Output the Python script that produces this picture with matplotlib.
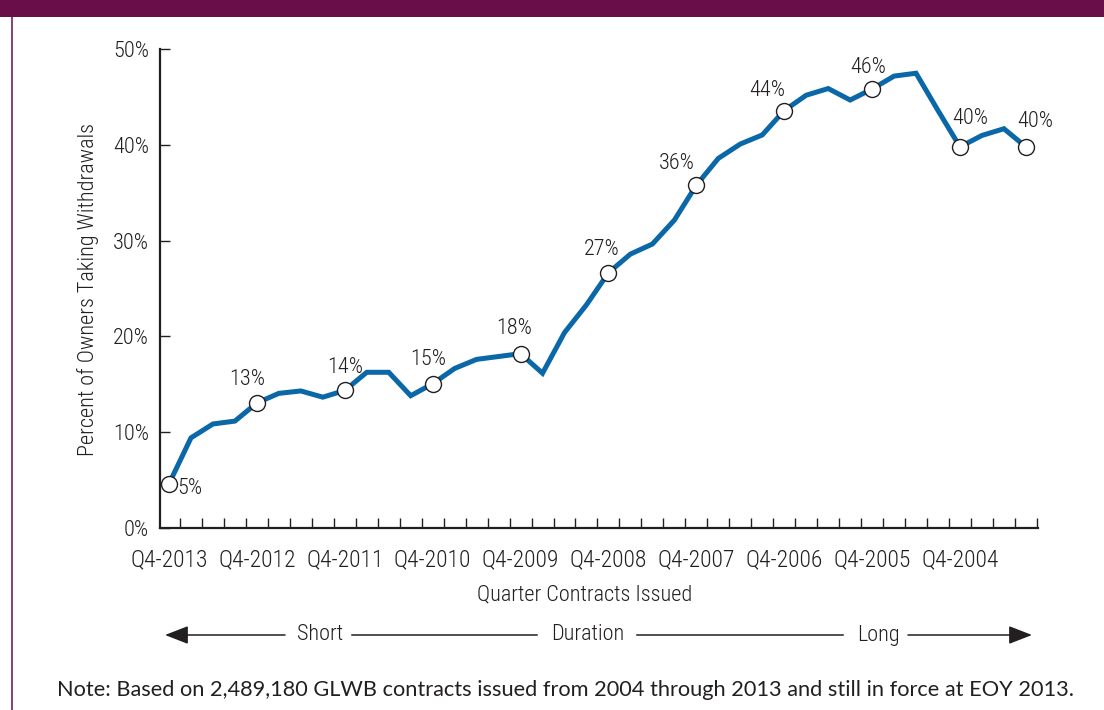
import matplotlib
matplotlib.use("Agg")
import matplotlib.pyplot as plt
from matplotlib import font_manager as fm
from matplotlib.patches import Rectangle, FancyArrowPatch
from matplotlib.lines import Line2D

# ---------------- data ----------------
# quarters issued, from most recent (left) to oldest (right)
quarters = ["Q%d-%d" % (q, y) for y in range(2013, 2003, -1) for q in (4, 3, 2, 1)]
pct = [4.6, 9.4, 10.85, 11.15, 13.05, 14.05, 14.3, 13.65, 14.35, 16.25,
       16.25, 13.8, 15.05, 16.65, 17.6, 17.9, 18.2, 16.15, 20.4, 23.3,
       26.65, 28.6, 29.65, 32.15, 35.8, 38.6, 40.1, 41.05, 43.6, 45.2,
       45.9, 44.7, 45.85, 47.2, 47.5, 43.6, 39.8, 41.0, 41.7, 39.8]
tick_labels = ["Q4-2013", "Q4-2012", "Q4-2011", "Q4-2010", "Q4-2009",
               "Q4-2008", "Q4-2007", "Q4-2006", "Q4-2005", "Q4-2004"]
labeled = ["Q4-2013", "Q4-2012", "Q4-2011", "Q4-2010", "Q4-2009", "Q4-2008",
           "Q4-2007", "Q4-2006", "Q4-2005", "Q4-2004", "Q1-2004"]
y_ticks = [0, 10, 20, 30, 40, 50]

# ---------------- style ----------------
W, H = 1104, 710
DARK = "#231f20"
BLUE = "#0a67a8"
PURPLE = "#6a0e4a"

# pick a condensed font for the chart text
names = {f.name for f in fm.fontManager.ttflist}
chart_font = "DejaVu Sans"
for cand in ["Liberation Sans Narrow", "Roboto Condensed", "Open Sans Condensed",
             "Noto Sans Condensed", "DejaVu Sans Condensed"]:
    if cand in names:
        chart_font = cand
        break
stretch = "normal"
if chart_font == "DejaVu Sans":
    if any(f.name == "DejaVu Sans" and f.stretch == "condensed" for f in fm.fontManager.ttflist):
        stretch = "condensed"
CH = 16 if chart_font != "DejaVu Sans" else 15
plt.rcParams["font.family"] = [chart_font, "DejaVu Sans"]
plt.rcParams["font.stretch"] = stretch
plt.rcParams["font.weight"] = "light"
NOTE_FONT = ["Lato", "DejaVu Sans"]


def fx(px):
    return px / W


def fy(py):
    return 1 - py / H


fig = plt.figure(figsize=(W / 100, H / 100), dpi=100)
fig.patch.set_facecolor("white")

# header bar and left border
fig.patches.append(Rectangle((0, fy(17)), 1, 17 / H, transform=fig.transFigure,
                             facecolor=PURPLE, edgecolor="none", zorder=0))
fig.lines.append(Line2D([fx(11.5), fx(11.5)], [fy(17), 0], transform=fig.transFigure,
                        color=PURPLE, lw=1.1))

ax = fig.add_axes([fx(160), fy(527.8), fx(1038) - fx(160), (527.8 - 49.3) / H])
x = list(range(len(quarters)))
ax.plot(x, pct, color=BLUE, lw=3.6, solid_joinstyle="miter", zorder=2, clip_on=False)

lab_idx = [quarters.index(q) for q in labeled]
ax.plot(lab_idx, [pct[i] for i in lab_idx], "o", ms=11.5, mfc="white", mec=DARK,
        mew=1.0, zorder=3, clip_on=False)

offsets = {0: (8, -5, "left"), 4: (-10, 23, "center"), 8: (0, 23, "center"),
           12: (-4, 24, "center"), 16: (-6, 25, "center"), 20: (-7, 23, "center"),
           24: (-20, 22, "center"), 28: (-17, 20, "center"), 32: (-4, 22, "center"),
           36: (10, 28, "center"), 39: (9, 25, "center")}
for i in lab_idx:
    dx, dy, ha = offsets.get(i, (0, 23, "center"))
    ax.annotate("%d%%" % round(pct[i]), (i, pct[i]), xytext=(dx, dy),
                textcoords="offset pixels", ha=ha, va="center",
                fontsize=CH, color=DARK)

ax.set_xlim(-0.41, 39.55)
ax.set_ylim(0, 50)
for s in ("top", "right"):
    ax.spines[s].set_visible(False)
for s in ("left", "bottom"):
    ax.spines[s].set_linewidth(1.6)
    ax.spines[s].set_color(DARK)

ax.set_yticks(y_ticks)
ax.set_yticklabels(["%d%%" % v for v in y_ticks])
ax.tick_params(axis="y", direction="in", length=7, width=1, pad=8,
               labelsize=CH, color=DARK, labelcolor=DARK)

ax.set_xticks([quarters.index(q) for q in tick_labels])
ax.set_xticklabels(tick_labels)
ax.set_xticks([i + 0.5 for i in x], minor=True)
ax.tick_params(axis="x", which="major", length=0, pad=15, labelsize=CH + 1, labelcolor=DARK)
ax.tick_params(axis="x", which="minor", direction="in", length=7, width=1, color=DARK)

fig.text(fx(585), fy(595), "Quarter Contracts Issued", ha="center", va="center",
         fontsize=CH, color=DARK)
fig.text(fx(88), fy(290), "Percent of Owners Taking Withdrawals", ha="center",
         va="center", rotation=90, fontsize=CH, color=DARK)

# duration arrow row
ay = fy(635)
for x0, x1, arrow in [(285, 165, True), (352, 537, False), (637, 843, False), (908, 1032, True)]:
    if arrow:
        fig.patches.append(FancyArrowPatch((fx(x0), ay), (fx(x1), ay), transform=fig.transFigure,
                                           arrowstyle="-|>,head_length=0.9,head_width=0.35",
                                           mutation_scale=16, lw=1.1, color=DARK,
                                           shrinkA=0, shrinkB=0))
    else:
        fig.lines.append(Line2D([fx(x0), fx(x1)], [ay, ay], transform=fig.transFigure,
                                color=DARK, lw=1.1))
for xc, t in [(320, "Short"), (588, "Duration"), (878, "Long")]:
    fig.text(fx(xc), ay, t, ha="center", va="center", fontsize=CH, color=DARK)

fig.text(fx(566), fy(690), "Note: Based on 2,489,180 GLWB contracts issued from 2004 "
         "through 2013 and still in force at EOY 2013.", ha="center", va="center",
         fontsize=15.7, color=DARK, family=NOTE_FONT, stretch="normal", weight="normal")

fig.savefig("out.png", dpi=100, facecolor="white")
